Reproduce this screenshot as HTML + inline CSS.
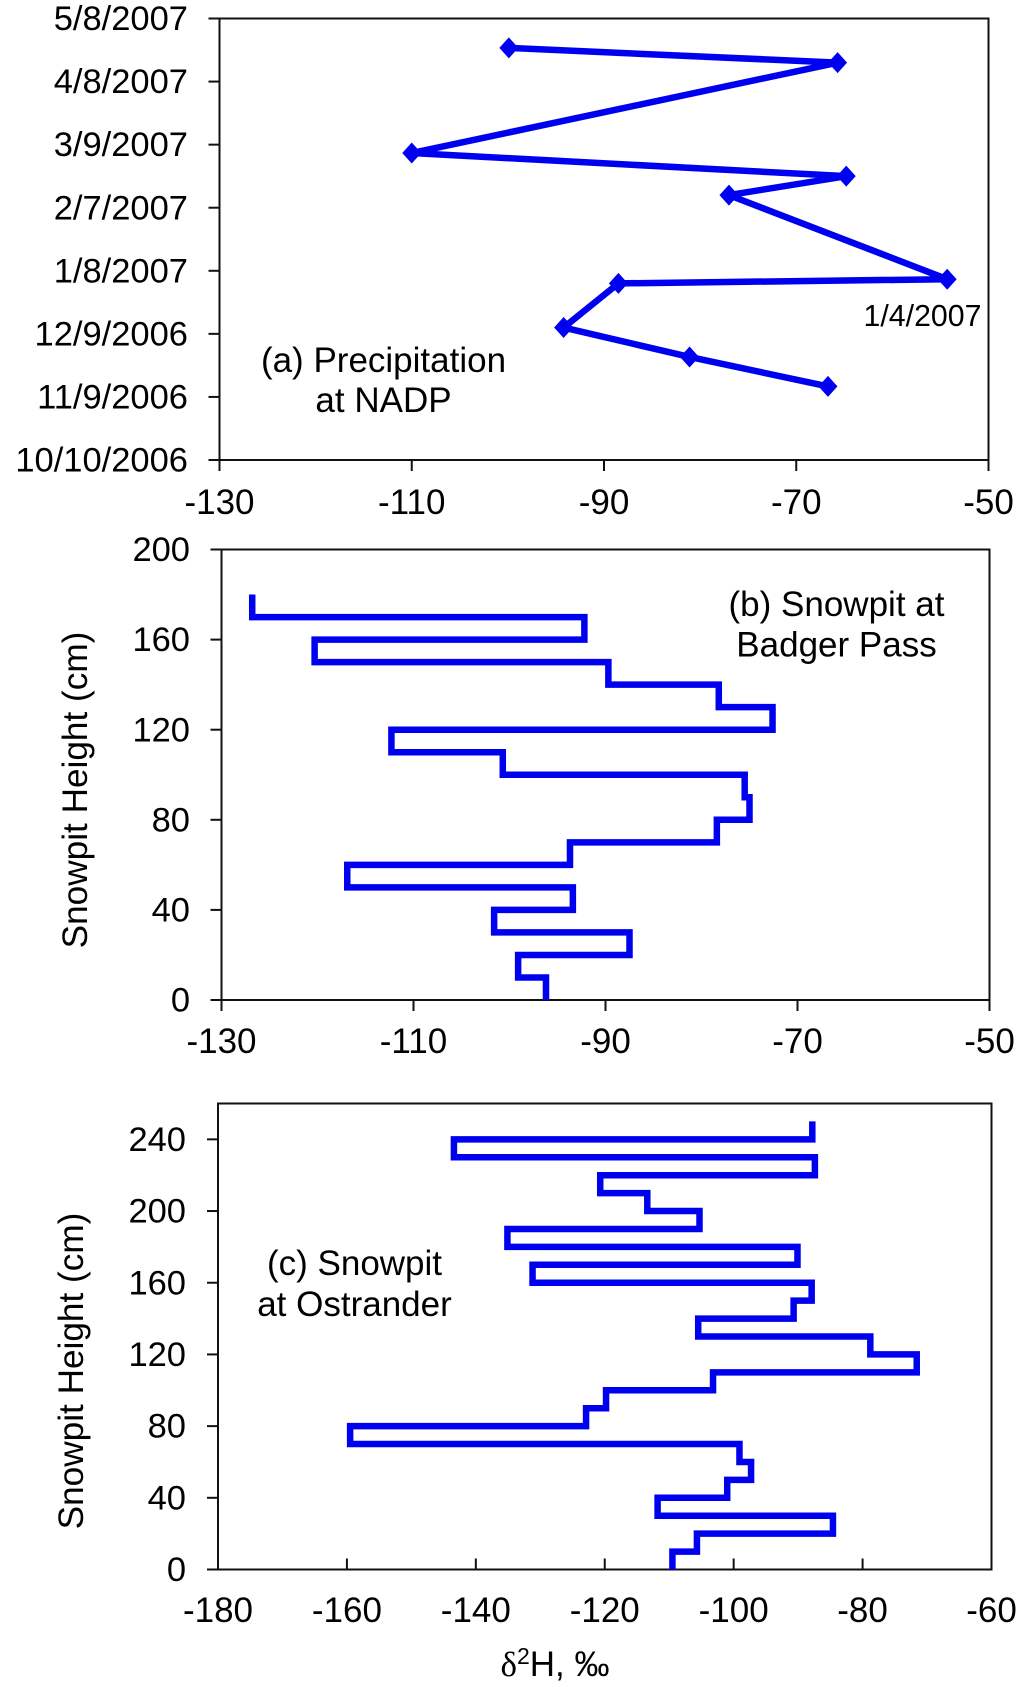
<!DOCTYPE html>
<html lang="en">
<head>
<meta charset="utf-8">
<title>Hydrogen isotope profiles</title>
<style>
html,body{margin:0;padding:0;background:#fff;}
svg{display:block;}
text{font-family:"Liberation Sans",Arial,sans-serif;fill:#000;font-size:35px;}
</style>
</head>
<body>
<svg id="figure" xmlns="http://www.w3.org/2000/svg" width="1033" height="1687" viewBox="0 0 1033 1687">
  <rect x="0" y="0" width="1033" height="1687" fill="#ffffff"/>
  <g id="panel-a"></g>
  <g id="panel-b"></g>
  <g id="panel-c"></g>

  <text x="383.5" y="372" text-anchor="middle">(a) Precipitation</text>
  <text x="383.5" y="412" text-anchor="middle">at NADP</text>
  <text x="922.5" y="326" text-anchor="middle" style="font-size:30.3px">1/4/2007</text>

  <text x="836.5" y="616" text-anchor="middle">(b) Snowpit at</text>
  <text x="836.5" y="656.5" text-anchor="middle">Badger Pass</text>
  <text transform="translate(87,790) rotate(-90)" text-anchor="middle" style="font-size:35.2px">Snowpit Height (cm)</text>

  <text x="354.5" y="1275" text-anchor="middle">(c) Snowpit</text>
  <text x="354.5" y="1316" text-anchor="middle">at Ostrander</text>
  <text transform="translate(83,1371) rotate(-90)" text-anchor="middle" style="font-size:35.2px">Snowpit Height (cm)</text>
  <text x="555" y="1676" text-anchor="middle"><tspan style="font-family:'Liberation Serif',serif">δ</tspan><tspan dy="-12" style="font-size:23px">2</tspan><tspan dy="12">H, ‰</tspan></text>
</svg>
<script>
// Panel (a): precipitation at NADP. Day values count from 10/10/2006.
var aXTicks = [-130, -110, -90, -70, -50];
var aDayTicks = [0, 30, 60, 90, 120, 150, 180, 210];
var aDayLabels = ['10/10/2006', '11/9/2006', '12/9/2006', '1/8/2007', '2/7/2007', '3/9/2007', '4/8/2007', '5/8/2007'];
var aDays = [35, 49, 63, 84, 86, 126, 135, 146, 189, 196];
var aValues = [-66.7, -81.1, -94.2, -88.5, -54.3, -77.0, -64.8, -110.0, -65.7, -99.9];

// Panel (b): snowpit at Badger Pass, layer boundaries (cm) and layer values.
var bXTicks = [-130, -110, -90, -70, -50];
var bYTicks = [0, 40, 80, 120, 160, 200];
var bDepths = [0, 10, 20, 30, 40, 50, 60, 70, 80, 90, 100, 110, 120, 130, 140, 150, 160, 170, 180];
var bValues = [-96.2, -99.1, -87.5, -101.6, -93.4, -116.9, -93.7, -78.4, -75.0, -75.5, -100.7, -112.3, -72.6, -78.2, -89.7, -120.3, -92.2, -126.8];

// Panel (c): snowpit at Ostrander, layer boundaries (cm) and layer values.
var cXTicks = [-180, -160, -140, -120, -100, -80, -60];
var cYTicks = [0, 40, 80, 120, 160, 200, 240];
var cDepths = [0, 10, 20, 30, 40, 50, 60, 70, 80, 90, 100, 110, 120, 130, 140, 150, 160, 170, 180, 190, 200, 210, 220, 230, 240, 250];
var cValues = [-109.5, -105.7, -84.6, -111.8, -101.0, -97.3, -99.1, -159.5, -122.9, -119.8, -103.2, -71.6, -78.8, -105.5, -90.7, -87.9, -131.2, -90.1, -135.1, -105.3, -113.4, -120.7, -87.4, -143.4, -87.8];

var SVG_NS = 'http://www.w3.org/2000/svg';
var BLUE = '#0000f0';

function scale(d0, d1, r0, r1) {
  return function (v) { return r0 + (v - d0) * (r1 - r0) / (d1 - d0); };
}
function make(parent, tag, attrs) {
  var el = document.createElementNS(SVG_NS, tag);
  for (var k in attrs) { el.setAttribute(k, attrs[k]); }
  parent.appendChild(el);
  return el;
}
function tickLine(parent, x1, y1, x2, y2, name) {
  var el = make(parent, 'line', { x1: x1, y1: y1, x2: x2, y2: y2, stroke: '#111', 'stroke-width': 2 });
  
  
}
function tickLabel(parent, x, y, anchor, str, name, size) {
  var el = make(parent, 'text', { x: x, y: y, 'text-anchor': anchor, style: 'font-size:' + size + 'px' });
  el.textContent = str;
  
  
}
function drawAxes(g, box, sx, sy, xTicks, yTicks, yLabels, opts) {
  var frame = make(g, 'rect', { x: box.l, y: box.t, width: box.r - box.l, height: box.b - box.t, fill: 'none', stroke: '#111', 'stroke-width': 2 });
  
  
  xTicks.forEach(function (t) {
    var x = sx(t);
    tickLine(g, x, box.b, x, box.b + opts.xTickLen, 'x-tick');
    tickLabel(g, x, opts.xLabelY, 'middle', String(t), 'x-tick-label', 35);
  });
  yTicks.forEach(function (t, i) {
    var y = sy(t);
    tickLine(g, box.l - 11, y, box.l, y, 'y-tick');
    tickLabel(g, opts.yLabelX, y + 11.6, 'end', yLabels[i], 'y-tick-label', 34.5);
  });
}
function stepPath(depths, values, sx, sy) {
  var d = '';
  values.forEach(function (v, i) {
    d += (i === 0 ? 'M' : 'L') + sx(v) + ' ' + sy(depths[i]) + 'L' + sx(v) + ' ' + sy(depths[i + 1]);
  });
  return d;
}

// Panel (a)
(function () {
  var g = document.getElementById('panel-a');
  var box = { l: 219.5, r: 988.5, t: 18.5, b: 460 };
  var sx = scale(-130, -50, box.l, box.r);
  var sy = scale(0, 210, box.b, box.t);
  drawAxes(g, box, sx, sy, aXTicks, aDayTicks, aDayLabels, { xTickLen: 11, xLabelY: 514, yLabelX: 188 });
  var d = aValues.map(function (v, i) { return (i === 0 ? 'M' : 'L') + sx(v) + ' ' + sy(aDays[i]); }).join('');
  var line = make(g, 'path', { d: d, fill: 'none', stroke: BLUE, 'stroke-width': 6.5, 'stroke-linejoin': 'round' });
  
  
  aValues.forEach(function (v, i) {
    var x = sx(v), y = sy(aDays[i]);
    var pts = [x - 9.5, y, x, y - 10.5, x + 9.5, y, x, y + 10.5].join(' ');
    var mark = make(g, 'polygon', { points: pts, fill: BLUE });
    
    
  });
})();

// Panel (b)
(function () {
  var g = document.getElementById('panel-b');
  var box = { l: 221.5, r: 989.5, t: 549.5, b: 1000 };
  var sx = scale(-130, -50, box.l, box.r);
  var sy = scale(0, 200, box.b, box.t);
  drawAxes(g, box, sx, sy, bXTicks, bYTicks, bYTicks.map(String), { xTickLen: 11, xLabelY: 1053, yLabelX: 190 });
  var line = make(g, 'path', { d: stepPath(bDepths, bValues, sx, sy), fill: 'none', stroke: BLUE, 'stroke-width': 6.5, 'stroke-linejoin': 'miter' });
  
  
})();

// Panel (c)
(function () {
  var g = document.getElementById('panel-c');
  var box = { l: 218, r: 991.5, t: 1103.5, b: 1569.5 };
  var sx = scale(-180, -60, box.l, box.r);
  var sy = scale(0, 260, box.b, box.t);
  drawAxes(g, box, sx, sy, cXTicks, cYTicks, cYTicks.map(String), { xTickLen: -11, xLabelY: 1622, yLabelX: 186 });
  var line = make(g, 'path', { d: stepPath(cDepths, cValues, sx, sy), fill: 'none', stroke: BLUE, 'stroke-width': 6.5, 'stroke-linejoin': 'miter' });
  
  
})();
</script>
</body>
</html>
